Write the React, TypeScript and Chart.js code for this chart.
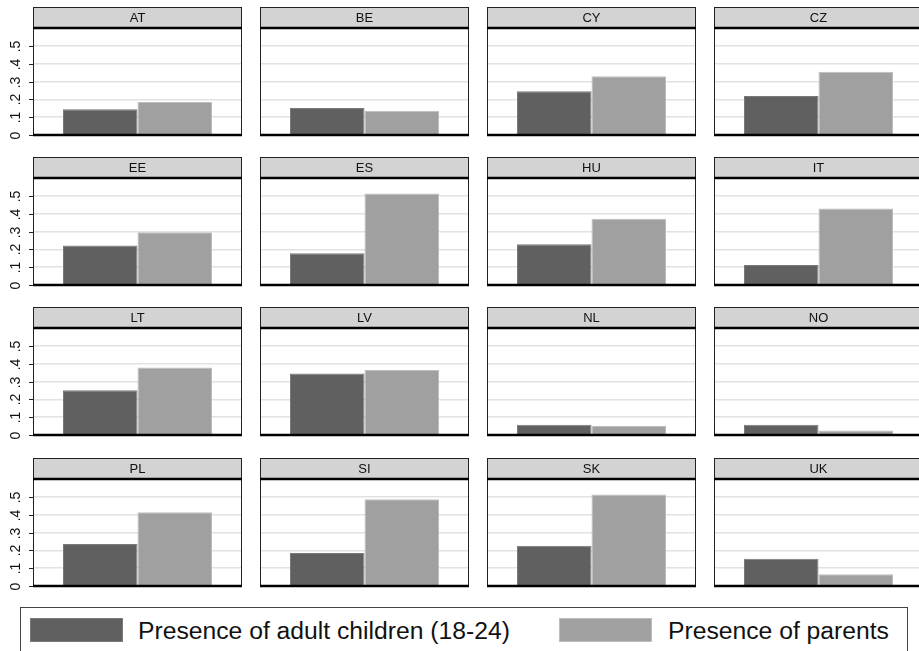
import React, { useEffect, useRef } from "react";
import { Chart, registerables } from "chart.js";

Chart.register(...registerables);

// ---------- data ----------
const countries = ["AT", "BE", "CY", "CZ", "EE", "ES", "HU", "IT", "LT", "LV", "NL", "NO", "PL", "SI", "SK", "UK"];
const adultChildren = [0.145, 0.151, 0.245, 0.219, 0.221, 0.178, 0.228, 0.112, 0.251, 0.345, 0.057, 0.057, 0.236, 0.185, 0.226, 0.153];
const parents = [0.185, 0.136, 0.33, 0.355, 0.296, 0.513, 0.371, 0.429, 0.379, 0.364, 0.051, 0.025, 0.413, 0.487, 0.513, 0.066];
const yTickValues = [0, 0.1, 0.2, 0.3, 0.4, 0.5];
const yTickLabels = ["0", ".1", ".2", ".3", ".4", ".5"];
const seriesLabels = ["Presence of adult children (18-24)", "Presence of parents"];
const seriesColors = ["#606060", "#a0a0a0"];
const seriesBorders = ["#7a7a7a", "#bdbdbd"];

// ---------- layout ----------
const COL_LEFT = [33, 260, 487, 714];
const HEADER_TOP = [7, 157, 307, 458];
const PLOT_W = 209;
const PLOT_H = 107;
const HEADER_H = 21;

const panelPlugin = {
  id: "panelDecor",
  afterDraw(chart: any, _args: any, opts: any) {
    const ctx = chart.ctx;
    const { left, right, top, bottom } = chart.chartArea;
    ctx.save();
    // header strip
    ctx.fillStyle = "#d3d3d3";
    ctx.fillRect(left, top - HEADER_H, right - left, HEADER_H);
    ctx.strokeStyle = "#222";
    ctx.lineWidth = 1;
    ctx.strokeRect(left + 0.5, top - HEADER_H + 0.5, right - left - 1, HEADER_H);
    ctx.fillStyle = "#111";
    ctx.font = "13px 'Liberation Sans', Arial, sans-serif";
    ctx.textAlign = "center";
    ctx.textBaseline = "middle";
    ctx.fillText(opts.title, (left + right) / 2, top - HEADER_H / 2 + 1);
    // frame
    ctx.strokeStyle = "#222";
    ctx.lineWidth = 1;
    ctx.beginPath();
    ctx.moveTo(left + 0.5, top);
    ctx.lineTo(left + 0.5, bottom);
    ctx.moveTo(right - 0.5, top);
    ctx.lineTo(right - 0.5, bottom);
    ctx.stroke();
    ctx.strokeStyle = "#000";
    ctx.lineWidth = 2.5;
    ctx.beginPath();
    ctx.moveTo(left, top);
    ctx.lineTo(right, top);
    ctx.moveTo(left, bottom);
    ctx.lineTo(right, bottom);
    ctx.stroke();
    // y axis ticks & labels
    if (opts.showY) {
      const ys = chart.scales.y;
      ctx.lineWidth = 1;
      ctx.strokeStyle = "#222";
      ctx.fillStyle = "#111";
      ctx.font = "14px 'Liberation Sans', Arial, sans-serif";
      ctx.textAlign = "center";
      ctx.textBaseline = "middle";
      yTickValues.forEach((v, i) => {
        const y = Math.round(ys.getPixelForValue(v)) + 0.5;
        ctx.beginPath();
        ctx.moveTo(left - 4, y);
        ctx.lineTo(left, y);
        ctx.stroke();
        ctx.save();
        ctx.translate(left - 17, y);
        ctx.rotate(-Math.PI / 2);
        ctx.fillText(yTickLabels[i], 0, 0);
        ctx.restore();
      });
    }
    ctx.restore();
  },
};

function Panel({ index }: { index: number }) {
  const ref = useRef<HTMLCanvasElement | null>(null);
  const row = Math.floor(index / 4);
  const col = index % 4;
  const padL = col === 0 ? 33 : 2;
  const padR = 2;
  const padT = 2 + HEADER_H;
  const padB = 9;
  const w = padL + PLOT_W + padR;
  const h = padT + PLOT_H + padB;

  useEffect(() => {
    if (!ref.current) return;
    const chart = new Chart(ref.current, {
      type: "bar",
      data: {
        labels: [countries[index]],
        datasets: [
          {
            label: seriesLabels[0],
            data: [adultChildren[index]],
            backgroundColor: seriesColors[0],
            borderColor: seriesBorders[0],
            borderWidth: 1,
          },
          {
            label: seriesLabels[1],
            data: [parents[index]],
            backgroundColor: seriesColors[1],
            borderColor: seriesBorders[1],
            borderWidth: 1,
          },
        ],
      },
      options: {
        animation: false,
        responsive: false,
        devicePixelRatio: 1,
        layout: { padding: { left: padL, right: padR, top: padT, bottom: padB } },
        datasets: { bar: { categoryPercentage: 0.713, barPercentage: 1 } },
        plugins: {
          legend: { display: false },
          tooltip: { enabled: false },
          title: { display: false },
          panelDecor: { title: countries[index], showY: col === 0 },
        } as any,
        scales: {
          x: { display: false },
          y: {
            min: 0,
            max: 0.6,
            ticks: { display: false, stepSize: 0.1 },
            border: { display: false },
            grid: {
              drawTicks: false,
              lineWidth: 1.5,
              color: (c: any) =>
                c.tick && c.tick.value > 0.001 && c.tick.value < 0.599 ? "#e2e2e2" : "rgba(0,0,0,0)",
            },
          },
        },
      },
      plugins: [panelPlugin],
    });
    return () => chart.destroy();
  }, [index]);

  return (
    <canvas
      ref={ref}
      width={w}
      height={h}
      style={{
        position: "absolute",
        left: COL_LEFT[col] - padL,
        top: HEADER_TOP[row] - 2,
        width: w,
        height: h,
      }}
    />
  );
}

export default function App() {
  return (
    <div
      style={{
        position: "absolute",
        left: 0,
        top: 0,
        width: 919,
        height: 651,
        overflow: "hidden",
        background: "#fff",
        fontFamily: "'Liberation Sans', Arial, sans-serif",
      }}
    >
      {countries.map((c, i) => (
        <Panel key={c} index={i} />
      ))}
      <div
        style={{
          position: "absolute",
          left: 20,
          top: 607,
          width: 888,
          height: 70,
          border: "1px solid #444",
          boxSizing: "border-box",
        }}
      />
      {seriesLabels.map((lab, i) => {
        const sx = [30, 559][i];
        const tx = [138, 668][i];
        return (
          <React.Fragment key={lab}>
            <div
              style={{
                position: "absolute",
                left: sx,
                top: 618,
                width: 93,
                height: 24,
                background: seriesColors[i],
                border: `1px solid ${seriesBorders[i]}`,
                boxSizing: "border-box",
              }}
            />
            <div
              style={{
                position: "absolute",
                left: tx,
                top: 617,
                fontSize: 24.7,
                lineHeight: "27px",
                color: "#111",
                whiteSpace: "nowrap",
              }}
            >
              {lab}
            </div>
          </React.Fragment>
        );
      })}
    </div>
  );
}
